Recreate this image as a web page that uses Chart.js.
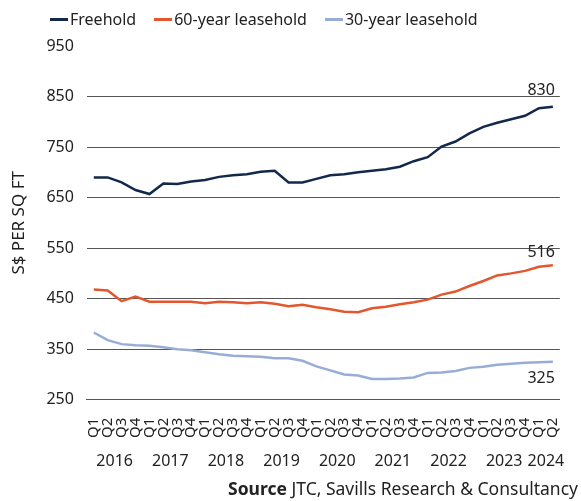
<!DOCTYPE html>
<html>
<head>
<meta charset="utf-8">
<script src="https://cdn.jsdelivr.net/npm/chart.js@4/dist/chart.umd.min.js"></script>
<style>
  body { margin: 0; background: #fff; font-family: "Noto Sans", sans-serif; }
  #wrap { position: relative; width: 581px; height: 501px; }
  #legend { position: absolute; top: 8px; left: 50px; display: flex; font-size: 16px; color: #222; }
  #legend .item { display: flex; align-items: center; margin-right: 18px; }
  #legend .swatch { width: 18px; height: 3px; margin-right: 2px; }
  #source { position: absolute; right: 3px; bottom: 1px; font-size: 17.5px; color: #222; }
</style>
</head>
<body>
<div id="wrap">
  <canvas id="lineChart" width="581" height="501"></canvas>
  <div id="legend"></div>
  <div id="source"><b>Source</b> JTC, Savills Research &amp; Consultancy</div>
</div>
<script>
var quarters = ['Q1','Q2','Q3','Q4','Q1','Q2','Q3','Q4','Q1','Q2','Q3','Q4','Q1','Q2','Q3','Q4',
                'Q1','Q2','Q3','Q4','Q1','Q2','Q3','Q4','Q1','Q2','Q3','Q4','Q1','Q2','Q3','Q4',
                'Q1','Q2'];
var years = ['2016','2017','2018','2019','2020','2021','2022','2023','2024'];
var quartersPerYear = [4, 4, 4, 4, 4, 4, 4, 4, 2];

var freehold = [690, 690, 680, 665, 657, 678, 677, 682, 685, 691, 694, 696,
                701, 703, 680, 680, 687, 694, 696, 700, 703, 706, 711, 722,
                730, 751, 761, 777, 790, 798, 805, 812, 827, 830];
var lease60 = [468, 466, 445, 454, 444, 444, 444, 444, 441, 444, 443, 441,
               443, 440, 435, 438, 433, 429, 424, 423, 431, 434, 439, 443,
               448, 458, 464, 475, 485, 496, 500, 505, 513, 516];
var lease30 = [383, 368, 360, 358, 357, 354, 350, 348, 344, 340, 337, 336,
               335, 332, 332, 327, 316, 308, 300, 298, 291, 291, 292, 294,
               303, 304, 307, 313, 315, 319, 321, 323, 324, 325];

var seriesNames = ['Freehold', '60-year leasehold', '30-year leasehold'];
var seriesColors = ['#13294b', '#e4572e', '#97add8'];

// legend
var legend = document.getElementById('legend');
seriesNames.forEach(function (name, i) {
    var item = document.createElement('div');
    item.className = 'item';
    item.innerHTML = '<span class="swatch" style="background:' + seriesColors[i] + '"></span>' + name;
    legend.appendChild(item);
});

var tickFont = { family: '"Noto Sans", sans-serif', size: 16 };

// year labels under the quarter ticks + value labels at the line ends
var extraLabels = {
    id: 'extraLabels',
    afterDraw: function (chart) {
        var c = chart.ctx;
        var xs = chart.scales.x;
        c.save();
        c.fillStyle = '#222';
        c.font = '16px "Noto Sans", sans-serif';
        c.textAlign = 'center';
        c.textBaseline = 'middle';
        var start = 0;
        years.forEach(function (y, i) {
            var n = quartersPerYear[i];
            var x = (xs.getPixelForTick(start) + xs.getPixelForTick(start + n - 1)) / 2;
            c.fillText(y, x, 461);
            start += n;
        });
        var offsets = [-16, -13, 17];
        c.textAlign = 'right';
        chart.data.datasets.forEach(function (ds, i) {
            var meta = chart.getDatasetMeta(i);
            var pt = meta.data[meta.data.length - 1];
            c.fillText(String(ds.data[ds.data.length - 1]), pt.x + 2, pt.y + offsets[i]);
        });
        c.restore();
    }
};

new Chart(document.getElementById('lineChart'), {
    type: 'line',
    data: {
        labels: quarters,
        datasets: [
            { label: seriesNames[0], data: freehold, borderColor: seriesColors[0] },
            { label: seriesNames[1], data: lease60, borderColor: seriesColors[1] },
            { label: seriesNames[2], data: lease30, borderColor: seriesColors[2] }
        ]
    },
    options: {
        responsive: false,
        animation: false,
        layout: { padding: { top: 46, left: 5, right: 9, bottom: 53 } },
        elements: {
            point: { radius: 0 },
            line: { borderWidth: 2.5, tension: 0 }
        },
        plugins: {
            legend: { display: false },
            tooltip: { enabled: false }
        },
        scales: {
            x: {
                offset: true,
                grid: { display: false },
                border: { display: true, color: '#555', width: 1 },
                ticks: {
                    autoSkip: false, maxRotation: 90, minRotation: 90,
                    color: '#222', font: { family: '"Noto Sans", sans-serif', size: 15 }, padding: 10
                }
            },
            y: {
                min: 250, max: 950,
                border: { display: false },
                grid: {
                    drawTicks: false,
                    color: function (ctx) {
                        var v = ctx.tick && ctx.tick.value;
                        return (v === 950 || v === 250) ? 'rgba(0,0,0,0)' : '#555';
                    }
                },
                ticks: { stepSize: 100, color: '#222', font: tickFont, padding: 13 },
                title: {
                    display: true, text: 'S$ PER SQ FT', color: '#222',
                    font: { family: '"Noto Sans", sans-serif', size: 17 }, padding: 4
                }
            }
        }
    },
    plugins: [extraLabels]
});
</script>
</body>
</html>
